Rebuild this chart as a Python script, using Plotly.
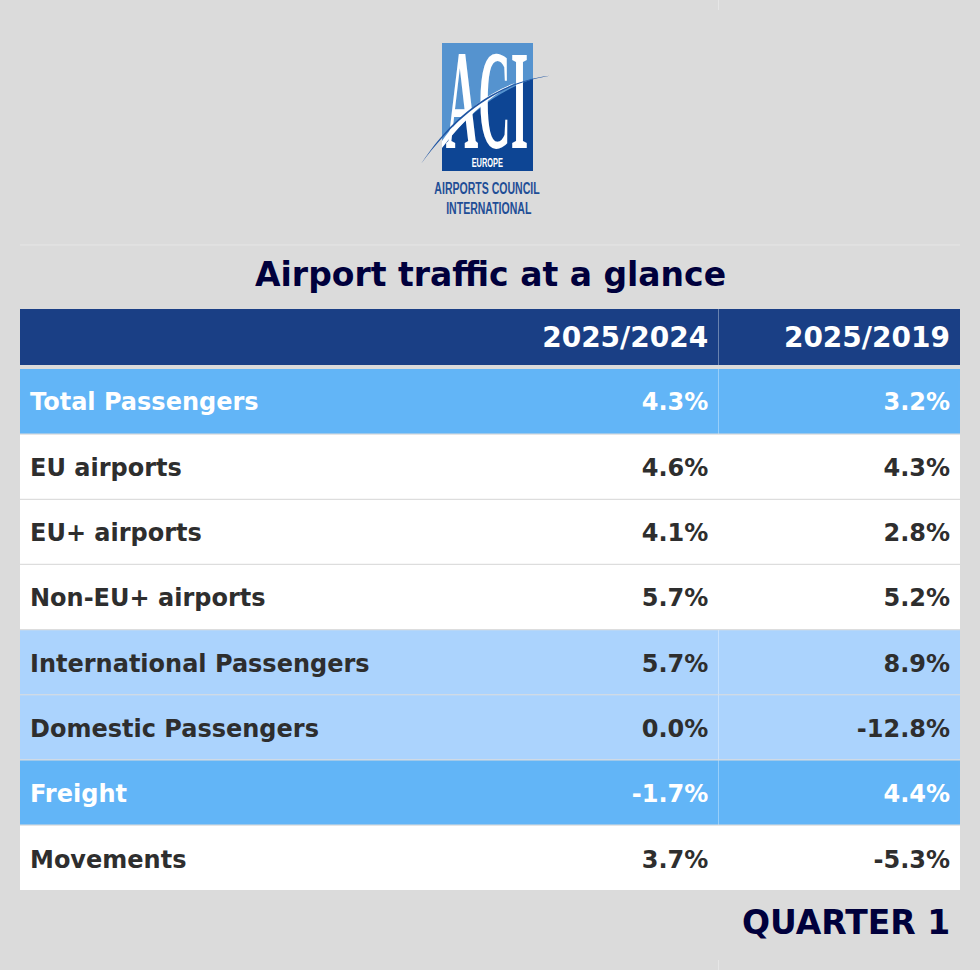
import plotly.graph_objects as go

labels = ["Total Passengers", "EU airports", "EU+ airports", "Non-EU+ airports",
          "International Passengers", "Domestic Passengers", "Freight", "Movements"]
col_2024 = ["4.3%", "4.6%", "4.1%", "5.7%", "5.7%", "0.0%", "-1.7%", "3.7%"]
col_2019 = ["3.2%", "4.3%", "2.8%", "5.2%", "8.9%", "-12.8%", "4.4%", "-5.3%"]
headers = ["", "2025/2024", "2025/2019"]
row_kind = ["main", "plain", "plain", "plain", "sub", "sub", "main", "plain"]

W, H = 980, 970
FONT = "DejaVu Sans"
BG = "#DBDBDB"
NAVY = "#1A3F85"
INK = "#00003C"
CLEAR = "rgba(0,0,0,0)"
fills = {"main": "#62B5F7", "sub": "#ABD3FD", "plain": "#FFFFFF"}
inks = {"main": "#FFFFFF", "sub": "#2E2E2E", "plain": "#2E2E2E"}

def py(v):
    return 1 - v / H
def px(v):
    return v / W

row_fill = [fills[k] for k in row_kind]
row_ink = [inks[k] for k in row_kind]
ROW = 65.15

fig = go.Figure()
# colour bands
fig.add_trace(go.Table(
    domain=dict(x=[px(20), px(960)], y=[py(890.2), py(309)]),
    columnwidth=[457, 241, 242],
    header=dict(values=["", "", ""], height=60, fill_color=NAVY, line_width=0),
    cells=dict(values=[[""] * len(labels)] * 3, height=ROW, line_width=0,
               fill_color=[row_fill] * 3),
))
# text, lowered inside the bands
fig.add_trace(go.Table(
    domain=dict(x=[px(22), px(959)], y=[py(905), py(313)]),
    columnwidth=[454, 241, 242],
    header=dict(values=[f"<b>{h}</b>" for h in headers], height=67.4,
                fill_color=CLEAR, line_width=0, align="right",
                font=dict(family=FONT, size=28, color="#FFFFFF")),
    cells=dict(values=[[f"<b>{t}</b>" for t in c] for c in (labels, col_2024, col_2019)],
               height=65.3, line_width=0, fill_color=CLEAR,
               align=["left", "right", "right"],
               font=dict(family=FONT, size=24, color=[row_ink] * 3)),
))
# ACI letters of the logo, under the swoosh shapes
fig.add_trace(go.Scatter(x=[487], y=[109], mode="text", text=["ACI"],
                         textposition="middle center", hoverinfo="skip",
                         textfont=dict(family="Liberation Serif", size=100, color="#FFFFFF", weight="bold")))

shapes = [
    dict(type="rect", x0=442, x1=533, y0=43, y1=171, fillcolor="#5593CF", line_width=0, layer="below"),
    dict(type="path", path="M442,171 L442,146 C470,112 500,90 533,79 L533,171 Z",
         fillcolor="#0D4594", line_width=0, layer="below"),
    # swoosh: white band, then blue edge
    dict(type="path", path="M442,141 C462,112 490,92 515,83 C490,96 465,118 442,148 Z",
         fillcolor="#FFFFFF", line_width=0, layer="above"),
    dict(type="path", path="M421,164 C455,112 500,80 556,75 C505,81 462,108 421,164 Z",
         fillcolor="#1F55A3", line_width=0, layer="above"),
    # faint page rules
    dict(type="line", x0=20, x1=960, y0=245, y1=245, line=dict(color="#E6E6E6", width=1), layer="below"),
    dict(type="line", x0=718.5, x1=718.5, y0=0, y1=10, line=dict(color="#E6E6E6", width=1), layer="below"),
    dict(type="line", x0=718.5, x1=718.5, y0=960, y1=970, line=dict(color="#E6E6E6", width=1), layer="below"),
    # gap under the header, table rules
    dict(type="rect", x0=20, x1=960, y0=365, y1=369, fillcolor=BG, line_width=0, layer="above"),
    dict(type="line", x0=718.5, x1=718.5, y0=309, y1=365, line=dict(color="rgba(255,255,255,0.35)", width=1), layer="above"),
    dict(type="line", x0=718.5, x1=718.5, y0=369, y1=890, line=dict(color="rgba(255,255,255,0.35)", width=1), layer="above"),
]
for k in range(1, 8):
    y = 369 + k * ROW
    shapes.append(dict(type="line", x0=20, x1=960, y0=y, y1=y,
                       line=dict(color="#DDDDDD", width=1.2), layer="above"))

def note(text, x, y, size, color, anchor="center", family=FONT):
    return dict(text=text, x=x, y=y, xref="x", yref="y", xanchor=anchor, yanchor="middle",
                showarrow=False, font=dict(family=family, size=size, color=color))

fig.update_layout(
    width=W, height=H, margin=dict(l=0, r=0, t=0, b=0),
    paper_bgcolor=BG, plot_bgcolor=BG, showlegend=False,
    xaxis=dict(range=[0, W], visible=False, domain=[0, 1]),
    yaxis=dict(range=[H, 0], visible=False, domain=[0, 1]),
    shapes=shapes,
    annotations=[
        note("<b>Airport traffic at a glance</b>", 490, 274, 33, INK),
        note("<b>QUARTER 1</b>", 952, 922, 33, INK, "right"),
        note("<b>EUROPE</b>", 487.5, 163, 12, "#FFFFFF", family="Liberation Sans"),
        note("<b>AIRPORTS COUNCIL</b>", 487, 188, 17, "#1F4E96", family="Liberation Sans"),
        note("<b>INTERNATIONAL</b>", 488.5, 208, 17, "#1F4E96", family="Liberation Sans"),
    ],
)

post = """
document.body.style.margin = '0';
function squeeze(t, sx, sy) {
  var b = t.getBBox(), cx = b.x + b.width / 2, cy = b.y + b.height / 2;
  t.setAttribute('transform', 'translate(' + cx + ',' + cy + ') scale(' + sx + ',' + sy + ') translate(' + (-cx) + ',' + (-cy) + ')');
}
document.querySelectorAll('.textpoint text').forEach(function (t) {
  if (t.textContent === 'ACI') squeeze(t, 0.45, 1.41);
});
document.querySelectorAll('.annotation-text').forEach(function (t) {
  if (t.textContent === 'EUROPE') squeeze(t, 0.62, 1);
  if (t.textContent === 'AIRPORTS COUNCIL' || t.textContent === 'INTERNATIONAL') squeeze(t, 0.62, 1);
});
"""
fig.write_html("out.html", post_script=post, config=dict(displayModeBar=False))
